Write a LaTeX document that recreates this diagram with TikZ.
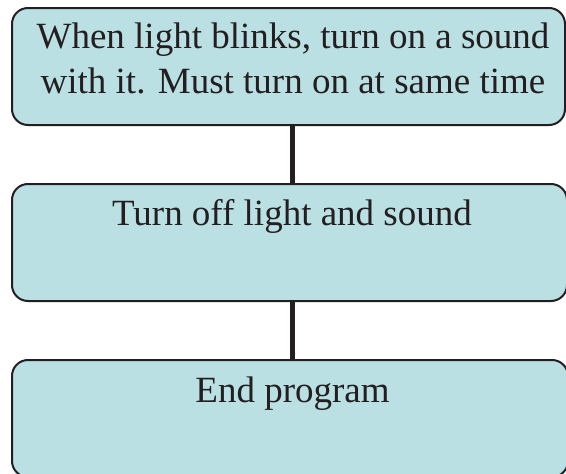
\documentclass[tikz,border=0pt]{standalone}
\usepackage{fontspec}
\setmainfont{Liberation Serif}
\definecolor{boxfill}{RGB}{186,224,227}
\definecolor{ink}{RGB}{35,31,32}
\begin{document}
\begin{tikzpicture}[x=1pt,y=-1pt,
  box/.style={draw=ink, line width=2pt, fill=boxfill, rounded corners=16pt, inner sep=0pt},
  boxtext/.style={text=ink, font=\fontsize{37}{45}\selectfont, align=center, inner sep=0pt, anchor=base},
  link/.style={draw=ink, line width=5pt}]
\useasboundingbox (0,0) rectangle (566,474);
\clip (0,0) rectangle (566,474);
\node[box, minimum width=553pt, minimum height=117pt] (b1) at (288.5,66.5) {};
\node[box, minimum width=555pt, minimum height=117pt] (b2) at (289.5,242.5) {};
\node[box, minimum width=556pt, minimum height=117pt] (b3) at (290,418.5) {};
\draw[link] ([xshift=3.5pt]b1.south) -- ([xshift=3.5pt]b1.south |- b2.north);
\draw[link] ([xshift=2.5pt]b2.south) -- ([xshift=2.5pt]b2.south |- b3.north);
\node[boxtext] (t1) at (293,93) {When light blinks, turn on a sound\\with it. Must turn on at same time};
\node[boxtext] (t2) at (292,225) {Turn off light and sound};
\node[boxtext] (t3) at (292.5,402) {End program};
\end{tikzpicture}
\end{document}
